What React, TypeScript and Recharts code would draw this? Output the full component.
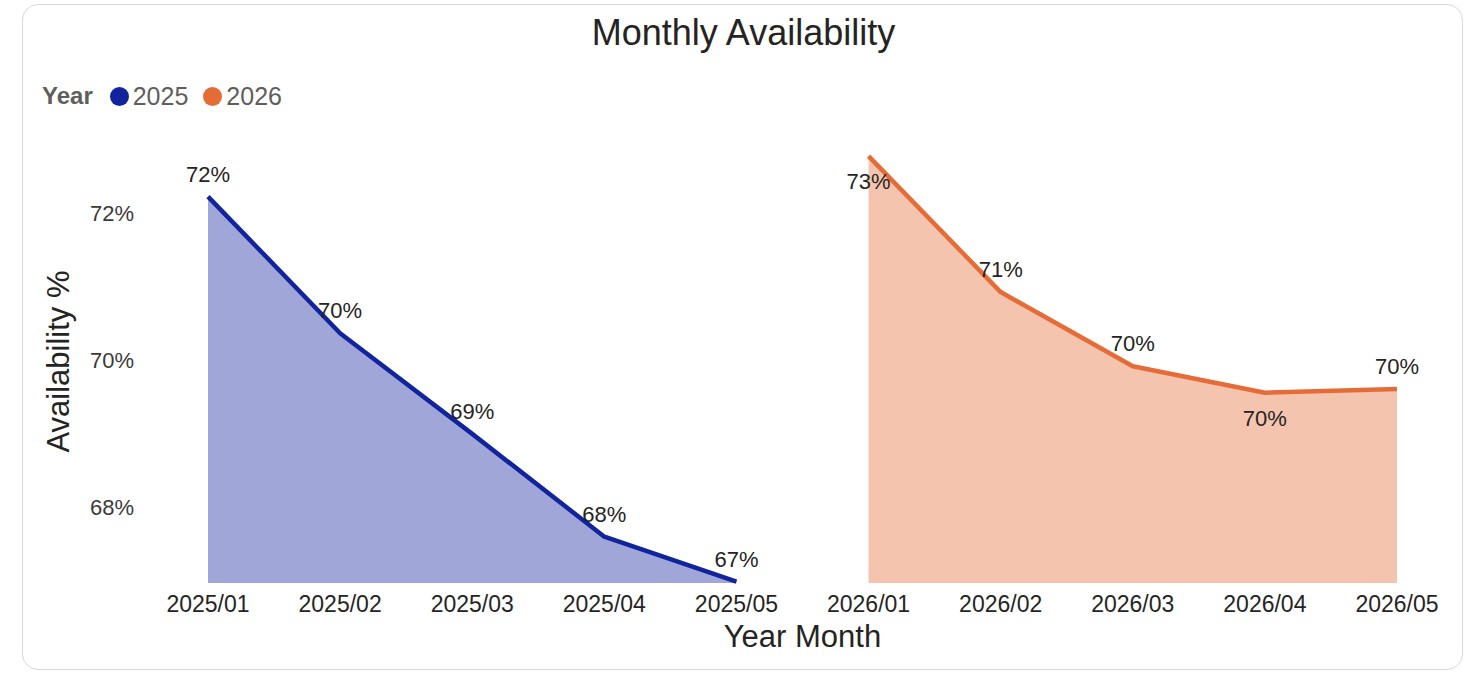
import {
  AreaChart, Area, XAxis, YAxis, LabelList, Legend,
} from 'recharts';

const months2025 = ['2025/01', '2025/02', '2025/03', '2025/04', '2025/05'];
const months2026 = ['2026/01', '2026/02', '2026/03', '2026/04', '2026/05'];
const avail2025 = [72.23, 70.37, 69.0, 67.6, 66.99];
const avail2026 = [72.78, 70.93, 69.92, 69.56, 69.61];
const yTicks = [68, 70, 72];
// months whose data label sits under the line instead of above it
const labelsBelow = ['2026/01', '2026/04'];

const COLOR_2025 = '#12239E';
const COLOR_2026 = '#E66C37';
const FONT = '"Liberation Sans", Arial, sans-serif';

const rows = [
  ...months2025.map((m, i) => ({ month: m, y2025: avail2025[i], y2026: null as number | null })),
  ...months2026.map((m, i) => ({ month: m, y2025: null as number | null, y2026: avail2026[i] })),
];

const pointLabel = (props: any) => {
  const { value, index } = props;
  if (value == null) return null;
  const vb = props.viewBox || {};
  const x = props.x ?? vb.x;
  const y = props.y ?? vb.y;
  const below = labelsBelow.includes(rows[index]?.month);
  return (
    <text x={x} y={below ? y + 33 : y - 15} textAnchor="middle" fontSize={22} fontFamily={FONT} fill="#252423">
      {Math.round(value)}%
    </text>
  );
};

const YTitle = (props: any) => {
  const vb = props.viewBox;
  const cx = vb.x - 50;
  const cy = vb.y + vb.height / 2;
  return (
    <text x={cx} y={cy} transform={`rotate(-90, ${cx}, ${cy})`} textAnchor="middle" dominantBaseline="central"
      fontSize={31} fontFamily={FONT} fill="#252423">
      Availability %
    </text>
  );
};

const LegendBox = () => (
  <div style={{ display: 'flex', alignItems: 'center', fontFamily: FONT, fontSize: 24, lineHeight: '24px', color: '#605E5C' }}>
    <span style={{ fontWeight: 'bold', marginRight: 17 }}>Year</span>
    <span style={{ width: 19, height: 19, borderRadius: '50%', background: COLOR_2025, marginRight: 4 }} />
    <span style={{ marginRight: 15, fontSize: 25 }}>2025</span>
    <span style={{ width: 19, height: 19, borderRadius: '50%', background: COLOR_2026, marginRight: 4 }} />
    <span style={{ fontSize: 25 }}>2026</span>
  </div>
);

export default function App() {
  return (
    <div style={{ position: 'absolute', left: 0, top: 0, width: 1473, height: 674, background: '#fff', overflow: 'hidden' }}>
      <div style={{
        position: 'absolute', left: 22, top: 4, width: 1439, height: 664, border: '1px solid #dadada',
        borderRadius: 16, background: '#fff',
      }} />
      <div style={{
        position: 'absolute', left: 0, top: 15, width: 1487, textAlign: 'center', fontFamily: FONT,
        fontSize: 36, lineHeight: '36px', color: '#252423',
      }}>
        Monthly Availability
      </div>
      <div style={{ position: 'absolute', left: 0, top: 0 }}>
        <AreaChart width={1473} height={674} data={rows} margin={{ top: 140, right: 76, bottom: 21, left: 108 }}>
          <XAxis dataKey="month" interval={0} axisLine={false} tickLine={false} tickMargin={7}
            tick={{ fill: '#252423', fontSize: 23, fontFamily: FONT }} height={70}
            label={{ value: 'Year Month', position: 'insideBottom', offset: 6, fontSize: 31, fontFamily: FONT, fill: '#252423' }} />
          <YAxis width={100} domain={[66.97, 73.0]} ticks={yTicks} axisLine={false} tickLine={false} tickMargin={68}
            tickFormatter={(v: number) => `${v}%`} tick={{ fill: '#3B3A39', fontSize: 22, fontFamily: FONT }}
            label={{ value: 'Availability %', content: YTitle }} />
          <Legend layout="horizontal" verticalAlign="middle" align="center" content={LegendBox}
            wrapperStyle={{ position: 'absolute', left: 42, top: 84, width: 'auto' }} />
          <Area type="linear" dataKey="y2025" name="2025" stroke={COLOR_2025} strokeWidth={4.5} fill={COLOR_2025}
            fillOpacity={0.4} dot={false} activeDot={false} isAnimationActive={false} strokeLinejoin="round">
            <LabelList dataKey="y2025" content={pointLabel} />
          </Area>
          <Area type="linear" dataKey="y2026" name="2026" stroke={COLOR_2026} strokeWidth={4.5} fill={COLOR_2026}
            fillOpacity={0.4} dot={false} activeDot={false} isAnimationActive={false} strokeLinejoin="round">
            <LabelList dataKey="y2026" content={pointLabel} />
          </Area>
        </AreaChart>
      </div>
    </div>
  );
}
